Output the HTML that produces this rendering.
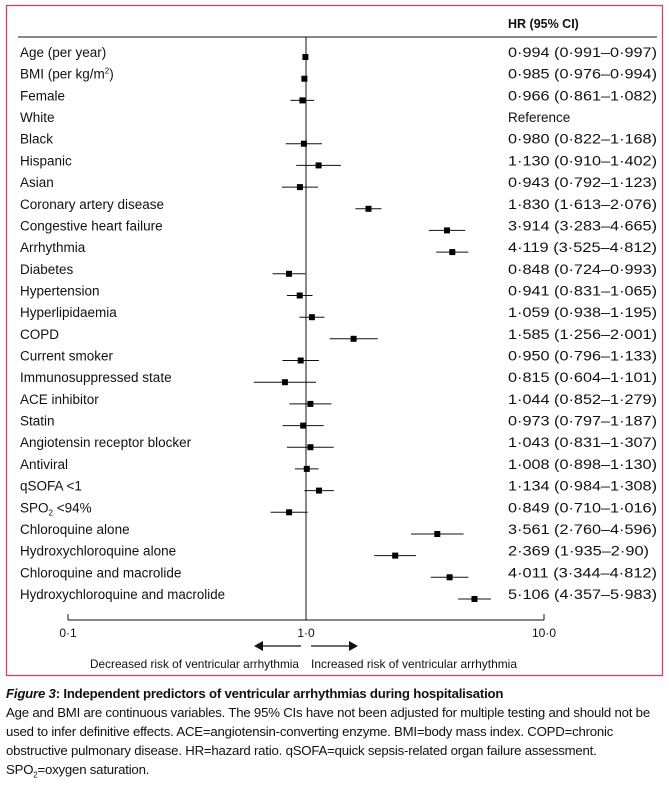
<!DOCTYPE html>
<html><head><meta charset="utf-8"><style>
body{margin:0;width:669px;height:785px;background:#fff;font-family:"Liberation Sans",sans-serif;color:#111;overflow:hidden;position:relative}
.c{position:absolute;left:6px;white-space:nowrap;font-size:13.2px;letter-spacing:-0.2px}
</style></head><body>
<svg width="669" height="690" style="position:absolute;left:0;top:0" font-family="Liberation Sans, sans-serif" font-size="13.5" fill="#111">
<rect x="6.5" y="5.5" width="656" height="670" fill="none" stroke="#d0446c" stroke-width="1.3"/>
<line x1="18" y1="37" x2="657" y2="37" stroke="#111"/>
<text x="508" y="28" font-weight="bold" font-size="12.5">HR (95% CI)</text>
<line x1="306" y1="37" x2="306" y2="620" stroke="#111"/>
<line x1="68" y1="620" x2="544" y2="620" stroke="#111"/>
<line x1="68" y1="614" x2="68" y2="620" stroke="#111"/>
<line x1="544" y1="614" x2="544" y2="620" stroke="#111"/>
<text x="68" y="637" text-anchor="middle" font-size="12">0·1</text>
<text x="306" y="637" text-anchor="middle" font-size="12">1·0</text>
<text x="544" y="637" text-anchor="middle" font-size="12">10·0</text>
<line x1="262" y1="646" x2="301" y2="646" stroke="#111" stroke-width="1.3"/>
<polygon points="254,646 263,641 263,651" fill="#111"/>
<line x1="311" y1="646" x2="350" y2="646" stroke="#111" stroke-width="1.3"/>
<polygon points="358,646 349,641 349,651" fill="#111"/>
<text x="299" y="668" text-anchor="end" font-size="12" textLength="209" lengthAdjust="spacingAndGlyphs">Decreased risk of ventricular arrhythmia</text>
<text x="311" y="668" font-size="12" textLength="206" lengthAdjust="spacingAndGlyphs">Increased risk of ventricular arrhythmia</text>
<g stroke="#111" stroke-width="1">
<line x1="305.1" y1="57" x2="305.7" y2="57"/>
<line x1="303.5" y1="78.7" x2="305.4" y2="78.7"/>
<line x1="290.5" y1="100.4" x2="314.1" y2="100.4"/>
<line x1="285.7" y1="143.7" x2="322" y2="143.7"/>
<line x1="296.2" y1="165.4" x2="340.9" y2="165.4"/>
<line x1="281.9" y1="187.1" x2="318" y2="187.1"/>
<line x1="355.4" y1="208.8" x2="381.5" y2="208.8"/>
<line x1="428.9" y1="230.4" x2="465.2" y2="230.4"/>
<line x1="436.2" y1="252.1" x2="468.4" y2="252.1"/>
<line x1="272.6" y1="273.8" x2="305.3" y2="273.8"/>
<line x1="286.9" y1="295.5" x2="312.5" y2="295.5"/>
<line x1="299.4" y1="317.2" x2="324.4" y2="317.2"/>
<line x1="329.6" y1="338.8" x2="377.7" y2="338.8"/>
<line x1="282.4" y1="360.5" x2="318.9" y2="360.5"/>
<line x1="253.9" y1="382.2" x2="316" y2="382.2"/>
<line x1="289.4" y1="403.9" x2="331.4" y2="403.9"/>
<line x1="282.6" y1="425.6" x2="323.7" y2="425.6"/>
<line x1="286.9" y1="447.2" x2="333.7" y2="447.2"/>
<line x1="294.9" y1="468.9" x2="318.6" y2="468.9"/>
<line x1="304.3" y1="490.6" x2="333.8" y2="490.6"/>
<line x1="270.6" y1="512.3" x2="307.6" y2="512.3"/>
<line x1="411" y1="534" x2="463.6" y2="534"/>
<line x1="374.2" y1="555.6" x2="416" y2="555.6"/>
<line x1="430.8" y1="577.3" x2="468.4" y2="577.3"/>
<line x1="458.1" y1="599" x2="490.9" y2="599"/>
</g>
<g fill="#000">
<rect x="302.4" y="54" width="6" height="6"/>
<rect x="301.4" y="75.7" width="6" height="6"/>
<rect x="299.4" y="97.4" width="6" height="6"/>
<rect x="300.9" y="140.7" width="6" height="6"/>
<rect x="315.6" y="162.4" width="6" height="6"/>
<rect x="296.9" y="184.1" width="6" height="6"/>
<rect x="365.5" y="205.8" width="6" height="6"/>
<rect x="444" y="227.4" width="6" height="6"/>
<rect x="449.3" y="249.1" width="6" height="6"/>
<rect x="286" y="270.8" width="6" height="6"/>
<rect x="296.7" y="292.5" width="6" height="6"/>
<rect x="308.9" y="314.2" width="6" height="6"/>
<rect x="350.6" y="335.8" width="6" height="6"/>
<rect x="297.7" y="357.5" width="6" height="6"/>
<rect x="281.9" y="379.2" width="6" height="6"/>
<rect x="307.4" y="400.9" width="6" height="6"/>
<rect x="300.2" y="422.6" width="6" height="6"/>
<rect x="307.4" y="444.2" width="6" height="6"/>
<rect x="303.8" y="465.9" width="6" height="6"/>
<rect x="316" y="487.6" width="6" height="6"/>
<rect x="286.1" y="509.3" width="6" height="6"/>
<rect x="434.3" y="531" width="6" height="6"/>
<rect x="392.2" y="552.6" width="6" height="6"/>
<rect x="446.6" y="574.3" width="6" height="6"/>
<rect x="471.5" y="596" width="6" height="6"/>
</g>
<g>
<text x="20" y="57">Age (per year)</text>
<text x="20" y="78.7">BMI (per kg/m<tspan font-size="8" dy="-5">2</tspan><tspan dy="5">)</tspan></text>
<text x="20" y="100.4">Female</text>
<text x="20" y="122">White</text>
<text x="20" y="143.7">Black</text>
<text x="20" y="165.4">Hispanic</text>
<text x="20" y="187.1">Asian</text>
<text x="20" y="208.8">Coronary artery disease</text>
<text x="20" y="230.4">Congestive heart failure</text>
<text x="20" y="252.1">Arrhythmia</text>
<text x="20" y="273.8">Diabetes</text>
<text x="20" y="295.5">Hypertension</text>
<text x="20" y="317.2">Hyperlipidaemia</text>
<text x="20" y="338.8">COPD</text>
<text x="20" y="360.5">Current smoker</text>
<text x="20" y="382.2">Immunosuppressed state</text>
<text x="20" y="403.9">ACE inhibitor</text>
<text x="20" y="425.6">Statin</text>
<text x="20" y="447.2">Angiotensin receptor blocker</text>
<text x="20" y="468.9">Antiviral</text>
<text x="20" y="490.6">qSOFA &lt;1</text>
<text x="20" y="512.3">SPO<tspan font-size="8" dy="3">2</tspan><tspan dy="-3"> &lt;94%</tspan></text>
<text x="20" y="534">Chloroquine alone</text>
<text x="20" y="555.6">Hydroxychloroquine alone</text>
<text x="20" y="577.3">Chloroquine and macrolide</text>
<text x="20" y="599" textLength="205" lengthAdjust="spacingAndGlyphs">Hydroxychloroquine and macrolide</text>
</g>
<g font-size="14">
<text x="508" y="57" textLength="149" lengthAdjust="spacingAndGlyphs">0·994 (0·991–0·997)</text>
<text x="508" y="78.7" textLength="149" lengthAdjust="spacingAndGlyphs">0·985 (0·976–0·994)</text>
<text x="508" y="100.4" textLength="149" lengthAdjust="spacingAndGlyphs">0·966 (0·861–1·082)</text>
<text x="508" y="122" font-size="13.5">Reference</text>
<text x="508" y="143.7" textLength="149" lengthAdjust="spacingAndGlyphs">0·980 (0·822–1·168)</text>
<text x="508" y="165.4" textLength="149" lengthAdjust="spacingAndGlyphs">1·130 (0·910–1·402)</text>
<text x="508" y="187.1" textLength="149" lengthAdjust="spacingAndGlyphs">0·943 (0·792–1·123)</text>
<text x="508" y="208.8" textLength="149" lengthAdjust="spacingAndGlyphs">1·830 (1·613–2·076)</text>
<text x="508" y="230.4" textLength="149" lengthAdjust="spacingAndGlyphs">3·914 (3·283–4·665)</text>
<text x="508" y="252.1" textLength="149" lengthAdjust="spacingAndGlyphs">4·119 (3·525–4·812)</text>
<text x="508" y="273.8" textLength="149" lengthAdjust="spacingAndGlyphs">0·848 (0·724–0·993)</text>
<text x="508" y="295.5" textLength="149" lengthAdjust="spacingAndGlyphs">0·941 (0·831–1·065)</text>
<text x="508" y="317.2" textLength="149" lengthAdjust="spacingAndGlyphs">1·059 (0·938–1·195)</text>
<text x="508" y="338.8" textLength="149" lengthAdjust="spacingAndGlyphs">1·585 (1·256–2·001)</text>
<text x="508" y="360.5" textLength="149" lengthAdjust="spacingAndGlyphs">0·950 (0·796–1·133)</text>
<text x="508" y="382.2" textLength="149" lengthAdjust="spacingAndGlyphs">0·815 (0·604–1·101)</text>
<text x="508" y="403.9" textLength="149" lengthAdjust="spacingAndGlyphs">1·044 (0·852–1·279)</text>
<text x="508" y="425.6" textLength="149" lengthAdjust="spacingAndGlyphs">0·973 (0·797–1·187)</text>
<text x="508" y="447.2" textLength="149" lengthAdjust="spacingAndGlyphs">1·043 (0·831–1·307)</text>
<text x="508" y="468.9" textLength="149" lengthAdjust="spacingAndGlyphs">1·008 (0·898–1·130)</text>
<text x="508" y="490.6" textLength="149" lengthAdjust="spacingAndGlyphs">1·134 (0·984–1·308)</text>
<text x="508" y="512.3" textLength="149" lengthAdjust="spacingAndGlyphs">0·849 (0·710–1·016)</text>
<text x="508" y="534" textLength="149" lengthAdjust="spacingAndGlyphs">3·561 (2·760–4·596)</text>
<text x="508" y="555.6" textLength="141" lengthAdjust="spacingAndGlyphs">2·369 (1·935–2·90)</text>
<text x="508" y="577.3" textLength="149" lengthAdjust="spacingAndGlyphs">4·011 (3·344–4·812)</text>
<text x="508" y="599" textLength="149" lengthAdjust="spacingAndGlyphs">5·106 (4·357–5·983)</text>
</g>
</svg>
<div class="c" style="top:686px;font-weight:bold"><i>Figure 3</i>: Independent predictors of ventricular arrhythmias during hospitalisation</div>
<div class="c" style="top:705px">Age and BMI are continuous variables. The 95% CIs have not been adjusted for multiple testing and should not be</div>
<div class="c" style="top:724px">used to infer definitive effects. ACE=angiotensin-converting enzyme. BMI=body mass index. COPD=chronic</div>
<div class="c" style="top:743px">obstructive pulmonary disease. HR=hazard ratio. qSOFA=quick sepsis-related organ failure assessment.</div>
<div class="c" style="top:762px">SPO<sub style="font-size:8px">2</sub>=oxygen saturation.</div>
</body></html>
